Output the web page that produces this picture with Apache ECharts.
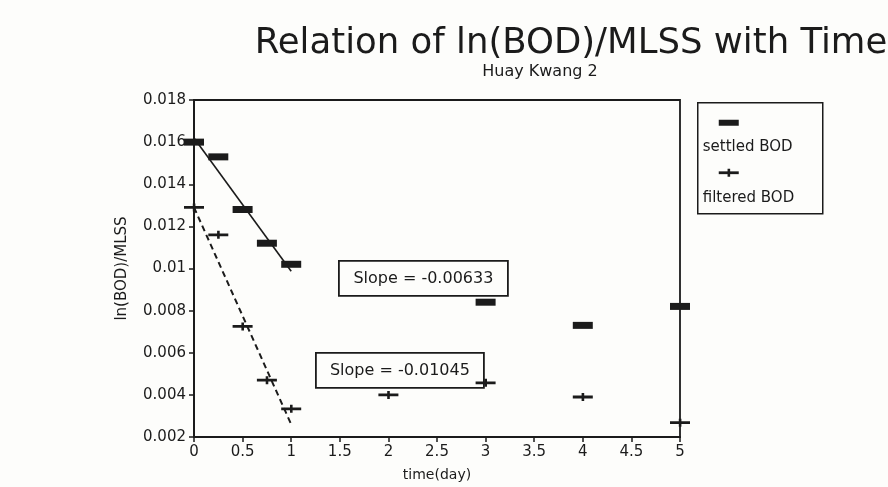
<!DOCTYPE html>
<html>
<head>
<meta charset="utf-8">
<title>Relation of ln(BOD)/MLSS with Time</title>
<script src="https://cdn.jsdelivr.net/npm/echarts@6/dist/echarts.min.js"></script>
<style>
  html, body { margin: 0; padding: 0; background: #fdfdfb; }
  #chart { width: 888px; height: 487px; }
</style>
</head>
<body>
<div id="chart"></div>
<script>
// Sampling times (day)
const settledTime = [0, 0.25, 0.5, 0.75, 1, 3, 4, 5];
const filteredTime = [0, 0.25, 0.5, 0.75, 1, 2, 3, 4, 5];

// ln(BOD)/MLSS for the two BOD fractions
const settledBOD = [0.0160, 0.0153, 0.0128, 0.0112, 0.0102, 0.0084, 0.0073, 0.0082];
const filteredBOD = [0.0129, 0.0116, 0.00725, 0.0047, 0.00334, 0.0040, 0.00457, 0.0039, 0.00268];

// Fitted lines over the first day (start, end)
const settledFitX = [0, 1];
const settledFitY = [0.0162, 0.00987];
const filteredFitX = [0, 1];
const filteredFitY = [0.0129, 0.0026];

// Slopes of the fitted lines
const settledSlope = '-0.00633';
const filteredSlope = '-0.01045';

// Axis tick labels
const xTickLabels = ['0', '0.5', '1', '1.5', '2', '2.5', '3', '3.5', '4', '4.5', '5'];
const yTickLabels = ['0.002', '0.004', '0.006', '0.008', '0.01', '0.012', '0.014', '0.016', '0.018'];

const FONT = 'DejaVu Sans';
const INK = '#1b1b1b';
const PAPER = '#fdfdfb';

function pairs(xs, ys) { return xs.map((x, i) => [x, ys[i]]); }

// Flat bar with a short vertical stroke through the middle
const crossBar = 'path://M0 2.6 L20 2.6 L20 5.4 L0 5.4 Z M8.8 0 L11.4 0 L11.4 8 L8.8 8 Z';

const chart = echarts.init(document.getElementById('chart'), null, { renderer: 'canvas' });

chart.setOption({
  backgroundColor: PAPER,
  animation: false,
  textStyle: { fontFamily: FONT, color: INK },
  title: [
    {
      text: 'Relation of ln(BOD)/MLSS with Time',
      left: 566, top: 21, textAlign: 'center',
      textStyle: { fontFamily: FONT, fontSize: 35.5, fontWeight: 'normal', color: INK }
    },
    {
      text: 'Huay Kwang 2',
      left: 535, top: 59, textAlign: 'center',
      textStyle: { fontFamily: FONT, fontSize: 16, fontWeight: 'normal', color: INK }
    }
  ],
  grid: {
    left: 194, top: 100, width: 486, height: 339,
    show: true, borderColor: INK, borderWidth: 1.8, backgroundColor: 'transparent'
  },
  xAxis: {
    type: 'value', min: 0, max: 5, interval: 0.5,
    name: 'time(day)', nameLocation: 'middle', nameGap: 31,
    nameTextStyle: { fontFamily: FONT, fontSize: 14, color: INK },
    axisLine: { show: true, lineStyle: { color: INK, width: 2 } },
    axisTick: { show: true, inside: false, length: 5, lineStyle: { color: INK, width: 1.5 } },
    axisLabel: {
      margin: 8, fontFamily: FONT, fontSize: 15, color: INK,
      formatter: v => xTickLabels[Math.round(v * 2)]
    },
    splitLine: { show: false }
  },
  yAxis: {
    type: 'value', min: 0.002, max: 0.018, interval: 0.002,
    name: 'ln(BOD)/MLSS', nameLocation: 'middle', nameGap: 64, nameRotate: 90,
    nameTextStyle: { fontFamily: FONT, fontSize: 15, color: INK },
    axisLine: { show: true, lineStyle: { color: INK, width: 2 } },
    axisTick: { show: true, inside: false, length: 5, lineStyle: { color: INK, width: 1.5 } },
    axisLabel: {
      margin: 8, fontFamily: FONT, fontSize: 15, color: INK,
      formatter: v => yTickLabels[Math.round(v * 500) - 1]
    },
    splitLine: { show: false }
  },
  series: [
    {
      name: 'settled fit', type: 'line', data: pairs(settledFitX, settledFitY),
      showSymbol: false, symbol: 'none', z: 2,
      lineStyle: { color: INK, width: 1.6, type: 'solid' }
    },
    {
      name: 'filtered fit', type: 'line', data: pairs(filteredFitX, filteredFitY),
      showSymbol: false, symbol: 'none', z: 2,
      lineStyle: { color: INK, width: 2, type: [6, 4] }
    },
    {
      name: 'settled BOD', type: 'scatter', data: pairs(settledTime, settledBOD),
      symbol: 'rect', symbolSize: [20, 7], clip: false, z: 3,
      itemStyle: { color: INK, opacity: 1 }
    },
    {
      name: 'filtered BOD', type: 'scatter', data: pairs(filteredTime, filteredBOD),
      symbol: crossBar, symbolSize: [20, 8], clip: false, z: 3,
      itemStyle: { color: INK, opacity: 1 }
    }
  ],
  graphic: [
    // slope annotations
    {
      type: 'group', left: 338, top: 260,
      children: [
        { type: 'rect', shape: { x: 0, y: 0, width: 169, height: 35 },
          style: { fill: PAPER, stroke: INK, lineWidth: 1.8 } },
        { type: 'text', x: 84.5, y: 17.5,
          style: { text: 'Slope = ' + settledSlope, font: '16px "' + FONT + '"',
                   fill: INK, align: 'center', verticalAlign: 'middle' } }
      ]
    },
    {
      type: 'group', left: 315, top: 352,
      children: [
        { type: 'rect', shape: { x: 0, y: 0, width: 168, height: 35 },
          style: { fill: PAPER, stroke: INK, lineWidth: 1.8 } },
        { type: 'text', x: 84, y: 17.5,
          style: { text: 'Slope = ' + filteredSlope, font: '16px "' + FONT + '"',
                   fill: INK, align: 'center', verticalAlign: 'middle' } }
      ]
    },
    // legend box
    {
      type: 'group', left: 697, top: 102,
      children: [
        { type: 'rect', shape: { x: 0, y: 0, width: 125, height: 111 },
          style: { fill: 'transparent', stroke: INK, lineWidth: 1.5 } },
        { type: 'rect', shape: { x: 21, y: 17, width: 20, height: 6 },
          style: { fill: INK } },
        { type: 'text', x: 5, y: 44,
          style: { text: 'settled BOD', font: '15px "' + FONT + '"',
                   fill: INK, align: 'left', verticalAlign: 'middle' } },
        { type: 'rect', shape: { x: 21, y: 68.6, width: 20, height: 2.8 },
          style: { fill: INK } },
        { type: 'rect', shape: { x: 29.8, y: 66, width: 2.6, height: 8 },
          style: { fill: INK } },
        { type: 'text', x: 5, y: 95,
          style: { text: 'filtered BOD', font: '15px "' + FONT + '"',
                   fill: INK, align: 'left', verticalAlign: 'middle' } }
      ]
    }
  ]
});
</script>
</body>
</html>
